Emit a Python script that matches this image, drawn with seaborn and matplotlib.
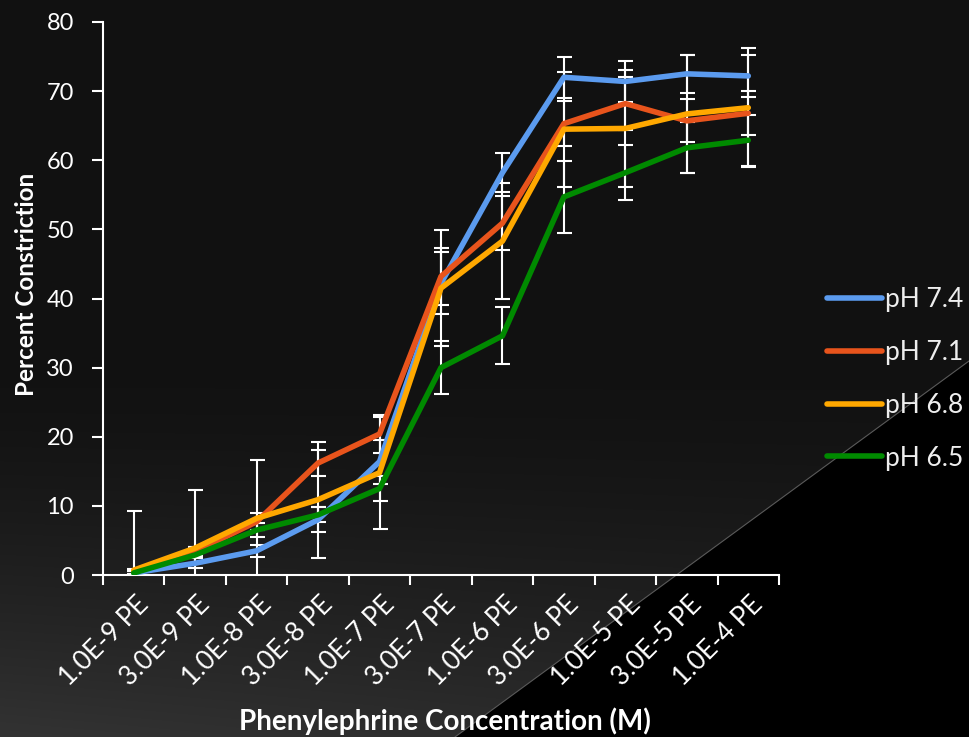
import numpy as np
import pandas as pd
import matplotlib
matplotlib.use("Agg")
import matplotlib.pyplot as plt
import matplotlib.transforms as mtransforms
import seaborn as sns
from matplotlib.patches import Polygon
from matplotlib.lines import Line2D

# ---- data ----
concentrations = ["1.0E-9 PE", "3.0E-9 PE", "1.0E-8 PE", "3.0E-8 PE", "1.0E-7 PE",
                  "3.0E-7 PE", "1.0E-6 PE", "3.0E-6 PE", "1.0E-5 PE", "3.0E-5 PE",
                  "1.0E-4 PE"]

ph74 = [0.3, 1.7, 3.5, 8.0, 16.4, 42.2, 58.2, 72.0, 71.4, 72.5, 72.2]
err74 = [0.3, 0.7, 0.9, 1.8, 3.2, 4.5, 2.8, 3.0, 3.0, 2.7, 3.0]

ph71 = [0.5, 3.4, 7.7, 16.2, 20.4, 43.2, 50.9, 65.3, 68.2, 65.7, 66.8]
err71 = [0.3, 0.6, 1.2, 1.9, 2.8, 4.1, 3.9, 3.3, 3.8, 3.1, 3.2]

ph68 = [0.7, 3.9, 8.2, 10.9, 14.8, 41.5, 48.3, 64.5, 64.6, 66.7, 67.6]
err68 = [8.6, 8.4, 8.4, 8.4, 8.1, 8.4, 8.4, 8.3, 8.5, 8.5, 8.6]

ph65 = [0.3, 2.9, 6.5, 8.7, 12.5, 30.0, 34.6, 54.7, 58.2, 61.8, 62.9]
err65 = [0.3, 1.1, 1.0, 1.1, 1.8, 3.8, 4.1, 5.2, 4.0, 3.7, 3.7]

series = ["pH 7.4", "pH 7.1", "pH 6.8", "pH 6.5"]
colors = ["#5B9BEF", "#E8541C", "#FFA800", "#008A00"]

rows = []
for name, vals, errs in zip(series, [ph74, ph71, ph68, ph65], [err74, err71, err68, err65]):
    for i, (v, e) in enumerate(zip(vals, errs)):
        rows.append({"pos": i, "conc": concentrations[i], "pH": name, "value": v, "err": e})
df = pd.DataFrame(rows)

# ---- style ----
sns.set_theme(style="white")
plt.rcParams["font.family"] = ["Lato", "DejaVu Sans"]

W, H = 969, 737
fig = plt.figure(figsize=(W / 100, H / 100), dpi=100)

# background: dark gradient + black triangle bottom right
bg = fig.add_axes([0, 0, 1, 1], zorder=0)
yy = np.arange(H)[:, None]
xx = np.arange(W)[None, :]
shade = 0.07 + 0.13 * np.clip((yy - 380) / 357, 0, 1) ** 1.4 * (1 - 0.35 * xx / W)
img = np.dstack([shade] * 3)
bg.imshow(img, extent=(0, W, H, 0), aspect="auto")
bg.add_patch(Polygon([(969, 361), (969, 737), (455, 737)], closed=True, color="black"))
bg.plot([969, 455], [361, 737], color="#5a5a5a", lw=0.8)
bg.set_xlim(0, W)
bg.set_ylim(H, 0)
bg.axis("off")

# main chart
ax = fig.add_axes([103 / W, 1 - 575 / H, 676 / W, 553 / H], zorder=1)
ax.patch.set_alpha(0)

for name in series:
    d = df[df["pH"] == name]
    ax.errorbar(d["pos"], d["value"], yerr=d["err"], fmt="none", ecolor="white",
                elinewidth=1.5, capsize=5.4, capthick=1.5, zorder=2)

sns.lineplot(data=df, x="pos", y="value", hue="pH", palette=colors, lw=4,
             errorbar=None, sort=False, legend=False, ax=ax, zorder=3)

ax.set_xlim(-0.5, 10.5)
ax.set_ylim(0, 80)
ax.set_yticks(range(0, 81, 10))
ax.set_xticks(range(len(concentrations)))
ax.set_xticklabels(concentrations, rotation=45, ha="right", va="top",
                   rotation_mode="anchor", fontsize=19, color="white")
ax.set_xticks(np.arange(-0.5, len(concentrations), 1), minor=True)
ax.tick_params(axis="x", which="major", length=0, pad=12)
ax.tick_params(axis="x", which="minor", length=7, width=1.5, color="white",
               direction="out", bottom=True)
ax.tick_params(axis="y", length=8, width=1.5, color="white", direction="out",
               left=True, labelsize=17, labelcolor="white", pad=13)
offset = mtransforms.ScaledTranslation(2 / 100, 0, fig.dpi_scale_trans)
for lab in ax.get_xticklabels():
    lab.set_transform(lab.get_transform() + offset)

for s in ["top", "right"]:
    ax.spines[s].set_visible(False)
for s in ["left", "bottom"]:
    ax.spines[s].set_color("white")
    ax.spines[s].set_linewidth(1.5)
ax.set_xlabel("")
ax.set_ylabel("")
ax.grid(False)

fig.text(27 / W, 1 - 284 / H, "Percent Constriction", rotation=90, ha="center",
         va="center", fontsize=17.5, fontweight="bold", color="white")
fig.text(445 / W, 1 - 721 / H, "Phenylephrine Concentration (M)", ha="center",
         va="center", fontsize=20, fontweight="bold", color="white")

handles = [Line2D([], [], color=c, lw=4, solid_capstyle="round") for c in colors]
fig.legend(handles, series, loc="center left", bbox_to_anchor=(827 / W, 1 - 379 / H),
           frameon=False, fontsize=19, labelcolor="#eeeeee", handlelength=2.1,
           handletextpad=0.1, labelspacing=1.05, borderpad=0, borderaxespad=0)

fig.savefig("out.png", dpi=100)
